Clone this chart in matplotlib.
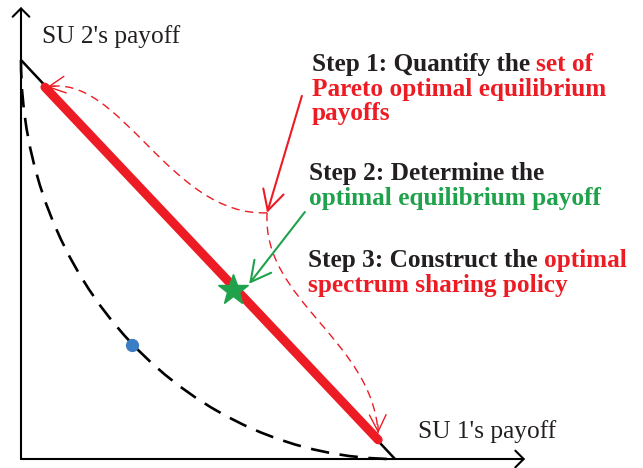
import matplotlib
matplotlib.use("Agg")
import matplotlib.pyplot as plt
from matplotlib.patches import Arc, PathPatch
from matplotlib.path import Path

# ---- data (payoff units: frontier runs from (0,1) to (1,0)) ----
frontier_x = [0.0, 1.0]
frontier_y = [1.0, 0.0]
pareto_x = [0.064, 0.955]
pareto_y = [0.932, 0.048]
optimal_point = (0.567, 0.424)
nash_point = (0.297, 0.286)
axis_x_end = 1.348
axis_y_end = 1.133

RED = "#ED1C24"
GREEN = "#1FA24B"
BLUE = "#3B7DC4"
BLACK = "#231F20"

fig = plt.figure(figsize=(6.43, 4.68), dpi=100)
ax = fig.add_axes([0, 0, 1, 1])
ax.set_xlim(-0.05615, 1.6631)
ax.set_ylim(-0.02256, 1.15038)
ax.axis("off")

# axes with arrowheads
axhead = "->,head_length=0.3,head_width=0.3"
ax.annotate("", xy=(axis_x_end, 0), xytext=(0, 0),
            arrowprops=dict(arrowstyle=axhead, lw=1.5, color="black",
                            shrinkA=0, shrinkB=0, mutation_scale=20))
ax.annotate("", xy=(0, axis_y_end), xytext=(0, 0),
            arrowprops=dict(arrowstyle=axhead, lw=1.5, color="black",
                            shrinkA=0, shrinkB=0, mutation_scale=20))

# feasible payoff region boundary (dashed quarter ellipse)
ax.add_patch(Arc((1, 1), 2, 2, theta1=180, theta2=270, lw=1.9, color="black",
                 linestyle=(0, (7, 4))))

# frontier and Pareto optimal set
ax.plot(frontier_x, frontier_y, color="black", lw=1.8, solid_capstyle="butt")
ax.plot(pareto_x, pareto_y, color=RED, lw=6.5, solid_capstyle="round")

# points
ax.plot(*nash_point, "o", color=BLUE, ms=8.5, mec=BLUE)
ax.plot(*optimal_point, "*", color=GREEN, ms=23, mec=GREEN, zorder=5)

# dashed curved arrows
hub = (0.658, 0.617)
c1 = Path([hub, (0.398, 0.607), (0.265, 0.970), (0.0695, 0.932)],
          [Path.MOVETO, Path.CURVE4, Path.CURVE4, Path.CURVE4])
c2 = Path([hub, (0.644, 0.398), (0.939, 0.298), (0.955, 0.065)],
          [Path.MOVETO, Path.CURVE4, Path.CURVE4, Path.CURVE4])
for c in (c1, c2):
    ax.add_patch(PathPatch(c, fc="none", ec=RED, lw=1.0, linestyle=(0, (6, 4))))
head = "->,head_length=0.6,head_width=0.3"
ax.annotate("", xy=(0.0695, 0.932), xytext=(0.0909, 0.9348),
            arrowprops=dict(arrowstyle=head, lw=1.0, color=RED, shrinkA=0, shrinkB=0,
                            mutation_scale=20))
ax.annotate("", xy=(0.955, 0.065), xytext=(0.9545, 0.0852),
            arrowprops=dict(arrowstyle=head, lw=1.0, color=RED, shrinkA=0, shrinkB=0,
                            mutation_scale=20))

# solid pointer arrows
phead = "->,head_length=0.72,head_width=0.38"
ax.annotate("", xy=hub, xytext=(0.751, 0.910),
            arrowprops=dict(arrowstyle=phead, lw=1.5, color=RED, shrinkA=0, shrinkB=0,
                            mutation_scale=20))
ax.annotate("", xy=(0.610, 0.439), xytext=(0.759, 0.619),
            arrowprops=dict(arrowstyle=phead, lw=1.5, color=GREEN, shrinkA=0, shrinkB=0,
                            mutation_scale=20))

# axis labels
lab = dict(family="Liberation Serif", fontsize=18.3, color=BLACK, va="baseline", ha="left")
ax.text(0.0561, 1.0434, "SU 2's payoff", **lab)
ax.text(1.0615, 0.0526, "SU 1's payoff", **lab)

# step texts
st = dict(family="Liberation Serif", fontsize=18.2, fontweight="bold", va="baseline", ha="left")


def line(x, y, parts):
    prev = None
    for txt, col in parts:
        if prev is None:
            prev = ax.text(x, y, txt, color=col, **st)
        else:
            prev = ax.annotate(txt, xy=(1, 0), xycoords=prev, color=col,
                               family=st["family"], fontsize=st["fontsize"],
                               fontweight="bold", va="bottom", ha="left")


line(0.778, 0.9724, [("Step 1: Quantify the ", BLACK), ("set of", RED)])
line(0.778, 0.9098, [("Pareto optimal equilibrium", RED)])
line(0.778, 0.8496, [("payoffs", RED)])
line(0.770, 0.6992, [("Step 2: Determine the", BLACK)])
line(0.770, 0.6366, [("optimal equilibrium payoff", GREEN)])
line(0.767, 0.4812, [("Step 3: Construct the ", BLACK), ("optimal", RED)])
line(0.767, 0.4185, [("spectrum sharing policy", RED)])

fig.savefig("out.png", dpi=100)
